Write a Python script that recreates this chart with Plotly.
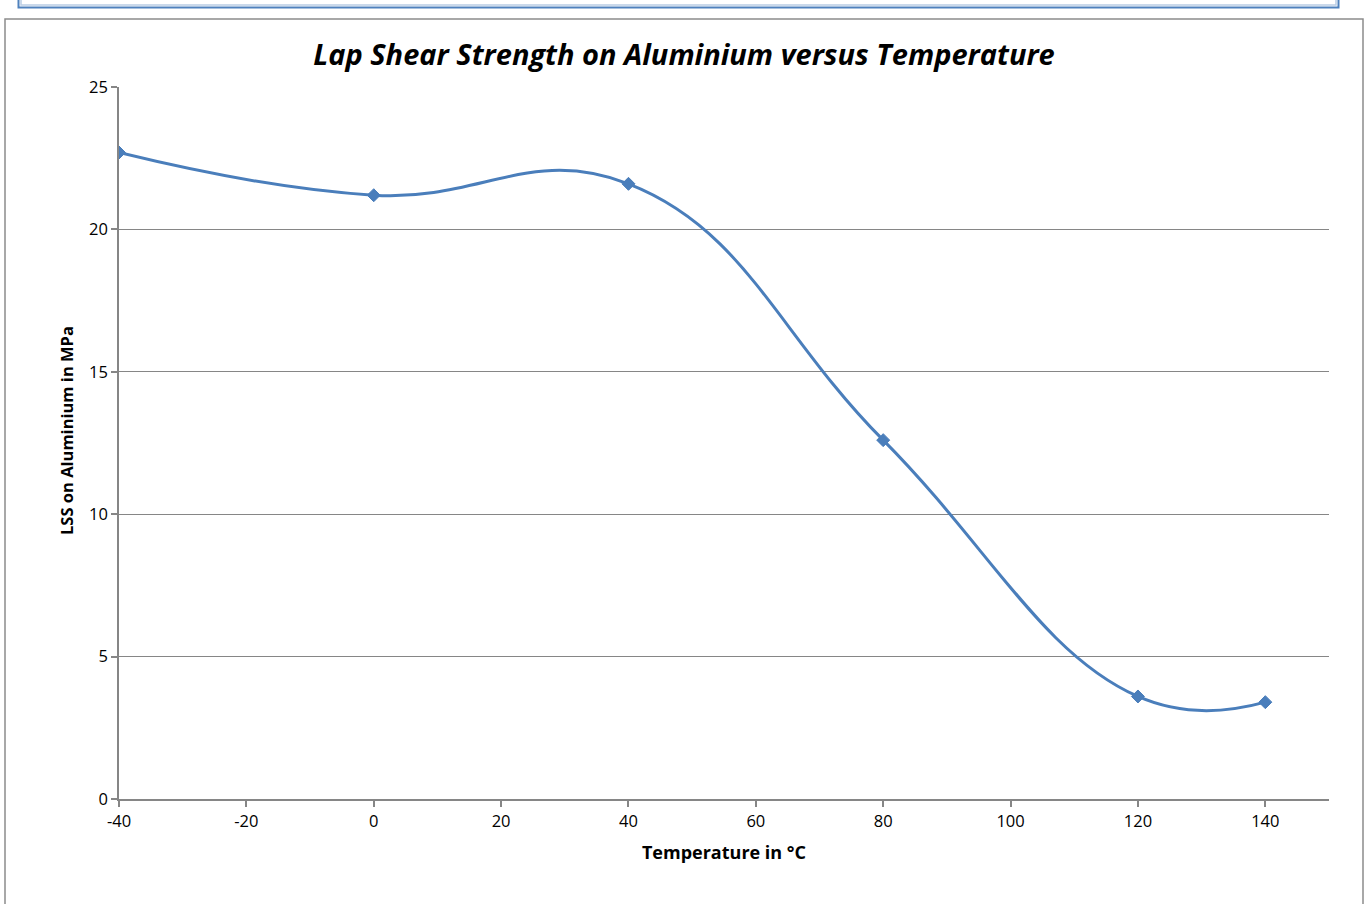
import plotly.graph_objects as go

temperature = [-40, 0, 40, 80, 120, 140]
lss_mpa = [22.7, 21.2, 21.6, 12.6, 3.6, 3.4]
x_ticks = [-40, -20, 0, 20, 40, 60, 80, 100, 120, 140]
y_ticks = [0, 5, 10, 15, 20, 25]

W, H = 1370, 904
L, R, T, B = 119, 1329, 87, 799

def px(x):
    return (x - L) / (R - L)

def py(y):
    return (B - y) / (B - T)

FONT = "Open Sans"
BLUE = "#4A7EBB"

fig = go.Figure()
fig.add_trace(go.Scatter(
    x=temperature, y=lss_mpa, mode="lines+markers",
    line=dict(color=BLUE, width=3, shape="spline", smoothing=1.25),
    marker=dict(symbol="diamond", size=10, color=BLUE, line=dict(color=BLUE, width=1)),
    showlegend=False, hoverinfo="x+y",
))

fig.update_layout(
    width=W, height=H,
    margin=dict(l=L, r=W - R, t=T, b=H - B),
    paper_bgcolor="white", plot_bgcolor="white",
    font=dict(family=FONT, color="black", size=16),
    title=dict(text="<b><i>Lap Shear Strength on Aluminium versus Temperature</i></b>",
               x=684 / W, xref="container", xanchor="center",
               y=1 - 55 / H, yref="container", yanchor="middle",
               font=dict(size=29, family=FONT)),
    xaxis=dict(range=[-40, 150], tickvals=x_ticks, ticktext=[str(v) for v in x_ticks],
               showgrid=False, zeroline=False, showline=True, linecolor="#868686", linewidth=1.5,
               ticks="outside", ticklen=6, tickcolor="#868686", tickwidth=1.5,
               tickfont=dict(size=16.5),
               title=dict(text="<b>Temperature in °C</b>", font=dict(size=18), standoff=16)),
    yaxis=dict(range=[0, 25], tickvals=y_ticks, showgrid=True, gridcolor="#868686", gridwidth=1,
               zeroline=False, showline=True, linecolor="#868686", linewidth=1.5,
               ticks="outside", ticklen=6, tickcolor="#868686", tickwidth=1.5,
               tickfont=dict(size=16.5)),
)

fig.add_annotation(text="<b>LSS on Aluminium in MPa</b>", textangle=-90,
                   xref="paper", yref="paper", x=px(67), y=py(431),
                   xanchor="center", yanchor="middle", showarrow=False,
                   font=dict(size=16.5, family=FONT, color="black"))

# outer chart frame
fig.add_shape(type="rect", xref="paper", yref="paper",
              x0=px(5), x1=px(1363), y0=py(910), y1=py(19),
              line=dict(color="#8C8C8C", width=1.5), fillcolor="rgba(0,0,0,0)", layer="below")
# blue box at top
fig.add_shape(type="rect", xref="paper", yref="paper",
              x0=px(18.5), x1=px(1338.5), y0=py(7.5), y1=py(-5),
              line=dict(color="#4F81BD", width=2), fillcolor="rgba(0,0,0,0)")
fig.add_shape(type="rect", xref="paper", yref="paper",
              x0=px(21), x1=px(1336), y0=py(5), y1=py(-5),
              line=dict(color="#B9CDE5", width=1.5), fillcolor="rgba(0,0,0,0)")

fig.write_html("out.html", config={"displayModeBar": False},
               post_script="document.body.style.margin='0';")
